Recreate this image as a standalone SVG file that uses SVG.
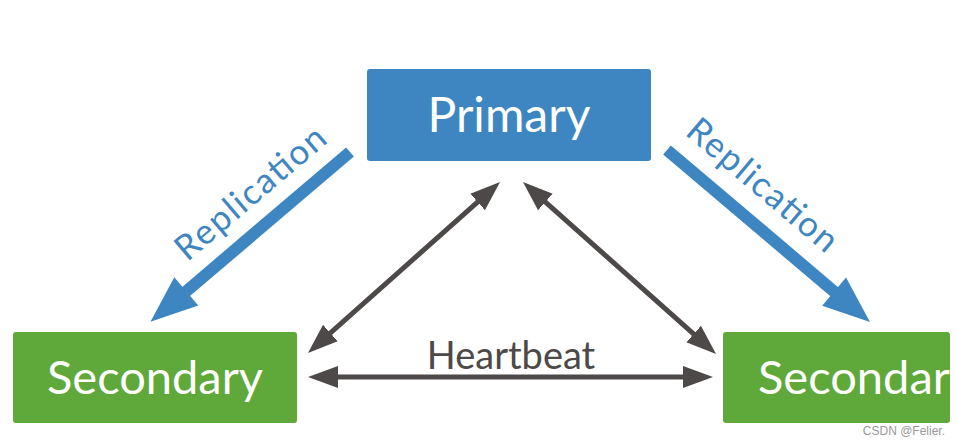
<svg xmlns="http://www.w3.org/2000/svg" width="959" height="446" viewBox="0 0 959 446">
<defs>
<style>
.node-text{font-family:"Lato","Open Sans","DejaVu Sans",sans-serif;fill:#ffffff;}
.rep{fill:#3e86c1;}
.rep-text{font-family:"Lato","Open Sans","DejaVu Sans",sans-serif;font-size:35px;fill:#3e86c1;}
.hb{stroke:#4d4949;stroke-width:5;fill:none;marker-start:url(#ah);marker-end:url(#ah);}
.hb-text{font-family:"Lato","Open Sans","DejaVu Sans",sans-serif;font-size:38px;fill:#4d4949;}
</style>
<marker id="ah" markerUnits="userSpaceOnUse" markerWidth="32" markerHeight="24" viewBox="0 -12 32 24" refX="10" refY="0" orient="auto-start-reverse">
<path d="M0,-11 L30,0 L0,11 Z" fill="#4d4949"/>
</marker>
</defs>
<rect width="959" height="446" fill="#ffffff"/>
<g id="primary">
<rect x="367" y="69" width="284" height="92" rx="3" fill="#3e86c1"/>
<text class="node-text" x="509" y="132" font-size="48" text-anchor="middle">Primary</text>
</g>
<g id="secondary-left">
<rect x="13" y="332" width="284" height="91" rx="3" fill="#5fa83a"/>
<text class="node-text" x="155" y="394" font-size="47" text-anchor="middle">Secondary</text>
</g>
<g id="secondary-right">
<rect x="723" y="332" width="227" height="91" rx="3" fill="#5fa83a"/>
<text class="node-text" x="758" y="394" font-size="47">Secondar</text>
</g>
<g id="connectors">
<g id="replication-left" transform="translate(350,152) rotate(139.6)">
<rect class="rep" x="0" y="-6" width="216" height="12"/>
<polygon class="rep" points="215,-18.5 262,0 215,18.5"/>
</g>
<g id="replication-right" transform="translate(667,150) rotate(40.27)">
<rect class="rep" x="0" y="-6" width="220" height="12"/>
<polygon class="rep" points="219,-18.5 266,0 219,18.5"/>
</g>
<text class="rep-text" transform="translate(258,202) rotate(-40.36)" text-anchor="middle" textLength="186" lengthAdjust="spacing">Replication</text>
<text class="rep-text" transform="translate(755,194) rotate(40.27)" text-anchor="middle" textLength="186" lengthAdjust="spacing">Replication</text>
<line class="hb" x1="322.9" y1="339.7" x2="485.1" y2="195.3"/>
<line class="hb" x1="537.9" y1="195.3" x2="701.1" y2="340.7"/>
<line class="hb" x1="328" y1="377" x2="693" y2="377"/>
<text class="hb-text" x="511" y="369" text-anchor="middle">Heartbeat</text>
</g>
<text x="945" y="435" font-family="Liberation Sans, Arial, sans-serif" font-size="12" fill="#999999" text-anchor="end">CSDN @Felier.</text>
</svg>
